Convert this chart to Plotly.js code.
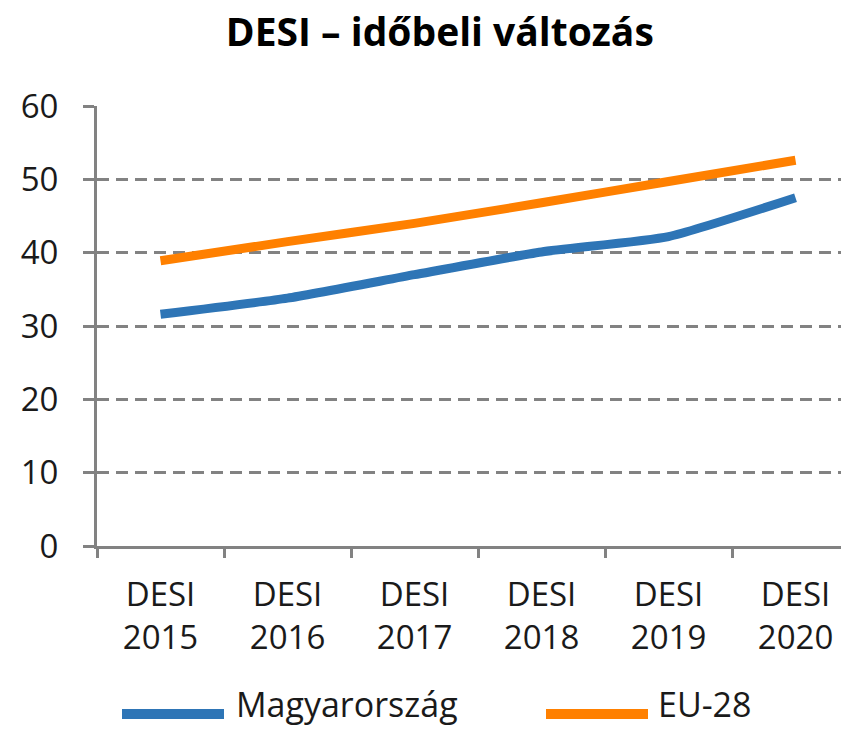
<!DOCTYPE html>
<html><head><meta charset="utf-8">
<script src="https://cdn.plot.ly/plotly-3.0.1.min.js"></script>
<style>html,body{margin:0;padding:0;background:#fff}</style>
</head><body><div id="chart" style="width:841px;height:731px"></div>
<script>
const categories = ["DESI<br>2015","DESI<br>2016","DESI<br>2017","DESI<br>2018","DESI<br>2019","DESI<br>2020"];
const seriesNames = ["Magyarország","EU-28"];
const magyarorszag = [31.6, 33.8, 37.0, 40.1, 42.2, 47.5];
const eu28 = [38.9, 41.5, 44.0, 46.8, 49.7, 52.6];
const titleText = "DESI – időbeli változás";

const colors = ["#2E75B6", "#FF8000"];
const FONT = "Open Sans, sans-serif";
const gray = "#828282";

const traces = [magyarorszag, eu28].map((vals, i) => ({
  type: "scatter", mode: "lines", x: categories, y: vals, name: seriesNames[i],
  line: {color: colors[i], width: 9, shape: "spline", smoothing: 0.5},
  showlegend: false, hoverinfo: "skip"
}));

// manual legend (paper coords); plot area 97..841 px x, 106..546 px y
const px = p => (p - 97) / 744;
const py = p => (546 - p) / 440;
const legendItems = [{x0: 122, x1: 224, tx: 234}, {x0: 546, x1: 648, tx: 656}];
const shapes = legendItems.map((it, i) => ({
  type: "line", xref: "paper", yref: "paper", x0: px(it.x0), x1: px(it.x1), y0: py(714), y1: py(714),
  line: {color: colors[i], width: 10}
}));
const annotations = legendItems.map((it, i) => ({
  xref: "paper", yref: "paper", x: px(it.tx), y: py(704), xanchor: "left", yanchor: "middle",
  text: seriesNames[i], showarrow: false, font: {family: FONT, size: 34, color: "#1a1a1a"}
}));

const layout = {
  width: 841, height: 731,
  margin: {l: 97, r: 0, t: 106, b: 185, pad: 0},
  paper_bgcolor: "#fff", plot_bgcolor: "#fff",
  font: {family: FONT, color: "#1a1a1a", size: 33},
  title: {text: "<b>" + titleText + "</b>", xref: "container", yref: "container",
          x: 0.523, xanchor: "center", y: 1 - 32/731, yanchor: "middle",
          font: {family: FONT, size: 39, color: "#000"}},
  xaxis: {type: "category", range: [-0.5, 5.358], showgrid: false, zeroline: false,
          showline: true, linecolor: gray, linewidth: 3,
          ticks: "outside", tickson: "boundaries", ticklen: 9, tickwidth: 3, tickcolor: gray,
          tickfont: {family: FONT, size: 33, color: "#1a1a1a"}, ticklabelstandoff: 17},
  yaxis: {range: [0, 60], dtick: 10, tick0: 0, showgrid: true, gridcolor: gray, gridwidth: 3,
          griddash: "12px,7px", zeroline: false,
          showline: true, linecolor: gray, linewidth: 3,
          ticks: "outside", ticklen: 11, tickwidth: 3, tickcolor: gray,
          tickfont: {family: FONT, size: 33, color: "#1a1a1a"}, ticklabelstandoff: 18},
  shapes: shapes, annotations: annotations, showlegend: false
};
Plotly.newPlot("chart", traces, layout, {displayModeBar: false, staticPlot: true});
</script></body></html>
